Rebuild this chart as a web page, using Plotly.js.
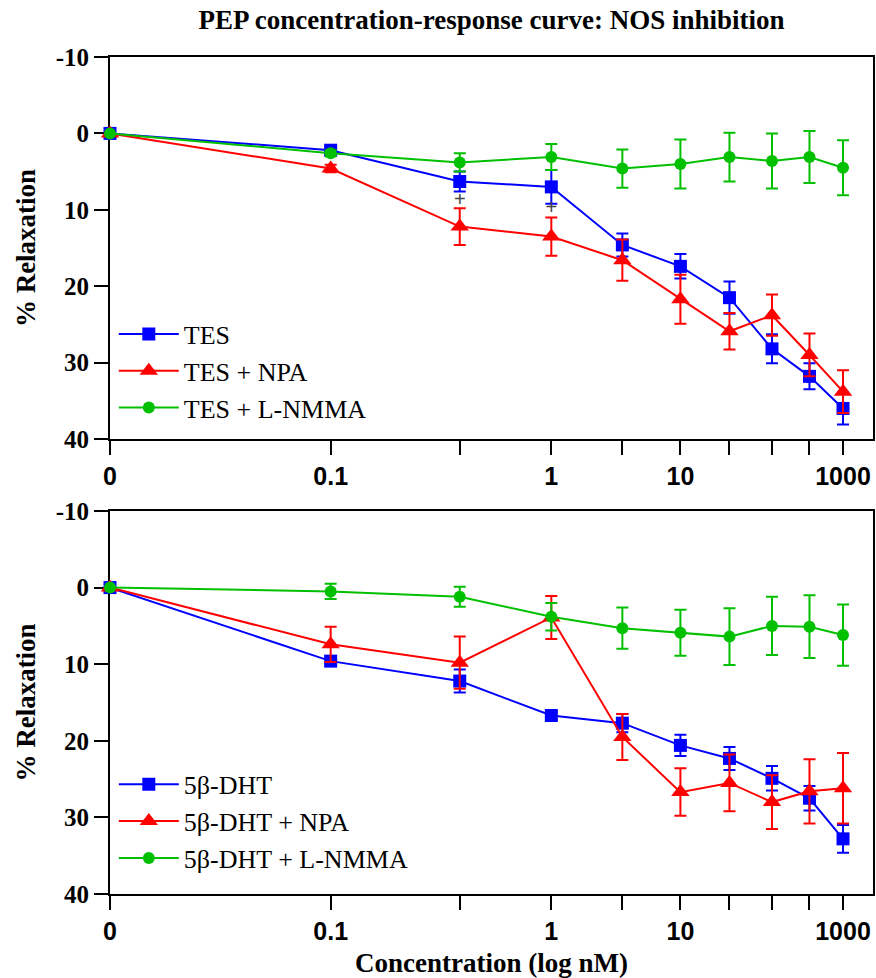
<!DOCTYPE html>
<html>
<head>
<meta charset="utf-8">
<script src="https://cdn.plot.ly/plotly-3.0.1.min.js"></script>
<style>html,body{margin:0;padding:0;background:#fff;}#chart{width:876px;height:978px;}</style>
</head>
<body>
<div id="chart"></div>
<script>
// Dose positions (rank on log scale) and tick labels
const doseRank = [1, 2, 3, 4, 5, 6, 7, 8, 9, 10];
const doseTickText = ['0', '0.1', '', '1', '', '10', '', '', '', '1000'];
const yTickVals = [-10, 0, 10, 20, 30, 40];
const yTickText = ['-10', '0', '10', '20', '30', '40'];

// Top panel: TES
const tes = [0, 2.2, 6.3, 7.0, 14.6, 17.4, 21.5, 28.2, 31.8, 36.0];
const tesErr = [0, 0.4, 1.3, 2.2, 1.5, 1.6, 2.1, 1.9, 1.7, 2.1];
const tesNpa = [0, 4.6, 12.2, 13.5, 16.6, 21.7, 25.9, 23.8, 29.0, 33.8];
const tesNpaErr = [0, 0.5, 2.4, 2.5, 2.7, 3.2, 2.4, 2.7, 2.8, 2.8];
const tesLnmma = [0, 2.6, 3.8, 3.1, 4.6, 4.0, 3.1, 3.6, 3.1, 4.5];
const tesLnmmaErr = [0, 0.4, 1.2, 1.7, 2.5, 3.2, 3.2, 3.6, 3.4, 3.6];

// Significance marks (top panel)
const sigRank = [3, 4];
const sigY = [8.9, 9.9];
const sigText = ['+', '+'];

// Bottom panel: 5β-DHT
const dht = [0, 9.6, 12.2, 16.7, 17.7, 20.6, 22.3, 24.9, 27.5, 32.8];
const dhtErr = [0, 0.5, 1.5, 0.5, 1.2, 1.4, 1.5, 1.6, 1.6, 1.8];
const dhtNpa = [0, 7.4, 9.8, 3.9, 19.5, 26.7, 25.5, 28.0, 26.6, 26.2];
const dhtNpaErr = [0, 2.3, 3.4, 2.8, 3.0, 3.1, 3.7, 3.5, 4.2, 4.6];
const dhtLnmma = [0, 0.5, 1.2, 3.8, 5.3, 5.9, 6.4, 5.0, 5.1, 6.2];
const dhtLnmmaErr = [0, 1.0, 1.3, 1.8, 2.7, 3.0, 3.7, 3.8, 4.1, 4.0];

const names1 = ['TES', 'TES + NPA', 'TES + L-NMMA'];
const names2 = ['5β-DHT', '5β-DHT + NPA', '5β-DHT + L-NMMA'];

const BLUE = '#0000ff', RED = '#ff0000', GREEN = '#00c000';
const serif = 'Liberation Serif, Times New Roman, serif';
const sans = 'Liberation Sans, Arial, sans-serif';

function series(y, err, name, color, symbol, size, xa, ya, leg) {
  return {
    x: doseRank, y: y, name: name, type: 'scatter', mode: 'lines+markers',
    xaxis: xa, yaxis: ya, legend: leg, legendgroup: leg + name,
    line: {color: color, width: 2},
    marker: {color: color, symbol: symbol, size: size},
    error_y: {type: 'data', array: err, visible: true, color: color, thickness: 2, width: 6},
    cliponaxis: false
  };
}

const data = [
  series(tes, tesErr, names1[0], BLUE, 'square', 13, 'x', 'y', 'legend'),
  series(tesNpa, tesNpaErr, names1[1], RED, 'triangle-up', 16, 'x', 'y', 'legend'),
  series(tesLnmma, tesLnmmaErr, names1[2], GREEN, 'circle', 12, 'x', 'y', 'legend'),
  {x: sigRank, y: sigY, text: sigText, mode: 'text', type: 'scatter', showlegend: false,
   xaxis: 'x', yaxis: 'y', textfont: {family: sans, size: 20, color: '#444'}, hoverinfo: 'skip'},
  series(dht, dhtErr, names2[0], BLUE, 'square', 13, 'x2', 'y2', 'legend2'),
  series(dhtNpa, dhtNpaErr, names2[1], RED, 'triangle-up', 16, 'x2', 'y2', 'legend2'),
  series(dhtLnmma, dhtLnmmaErr, names2[2], GREEN, 'circle', 12, 'x2', 'y2', 'legend2')
];

function xAxis(domainAnchor, withTitle) {
  const ax = {
    type: 'log', range: [0, 1.0409], anchor: domainAnchor,
    tickmode: 'array', tickvals: doseRank, ticktext: doseTickText,
    ticks: 'outside', ticklen: 14, tickwidth: 2, tickcolor: '#000',
    showline: true, linewidth: 2, linecolor: '#000', mirror: true,
    showgrid: false, zeroline: false, layer: 'below traces',
    tickfont: {family: sans, size: 25, color: '#000', weight: 'bold'}
  };
  if (withTitle) {
    ax.title = {text: 'Concentration (log nM)', standoff: 14,
      font: {family: serif, size: 27, color: '#000', weight: 'bold'}};
  }
  return ax;
}
function yAxis(domain, anchor) {
  return {
    domain: domain, anchor: anchor, range: [40, -10],
    tickmode: 'array', tickvals: yTickVals, ticktext: yTickText,
    ticks: 'outside', ticklen: 14, tickwidth: 2, tickcolor: '#000',
    showline: true, linewidth: 2, linecolor: '#000', mirror: true,
    showgrid: false, zeroline: false, layer: 'below traces',
    tickfont: {family: serif, size: 25, color: '#000', weight: 'bold'},
    title: {text: '% Relaxation', standoff: 12,
      font: {family: serif, size: 27, color: '#000', weight: 'bold'}}
  };
}

const legendCommon = {
  xanchor: 'left', yanchor: 'top', bgcolor: 'rgba(0,0,0,0)', borderwidth: 0,
  font: {family: serif, size: 26, color: '#000'}, tracegroupgap: 0, itemwidth: 60
};

const layout = {
  width: 876, height: 978,
  margin: {l: 110, r: 3, t: 57, b: 84},
  paper_bgcolor: '#fff', plot_bgcolor: '#fff',
  showlegend: true,
  title: {text: 'PEP concentration-response curve: NOS inhibition',
    x: 0.5, xref: 'paper', y: 1 - 20 / 978, yref: 'container', yanchor: 'middle',
    font: {family: serif, size: 27, color: '#000', weight: 'bold'}},
  xaxis: xAxis('y', false),
  yaxis: yAxis([0.5436, 1], 'x'),
  xaxis2: xAxis('y2', true),
  yaxis2: yAxis([0, 0.4576], 'x2'),
  legend: Object.assign({x: 0.005, y: 0.697}, legendCommon),
  legend2: Object.assign({x: 0.005, y: 0.159}, legendCommon)
};

Plotly.newPlot('chart', data, layout, {staticPlot: true, displayModeBar: false});
</script>
</body>
</html>
